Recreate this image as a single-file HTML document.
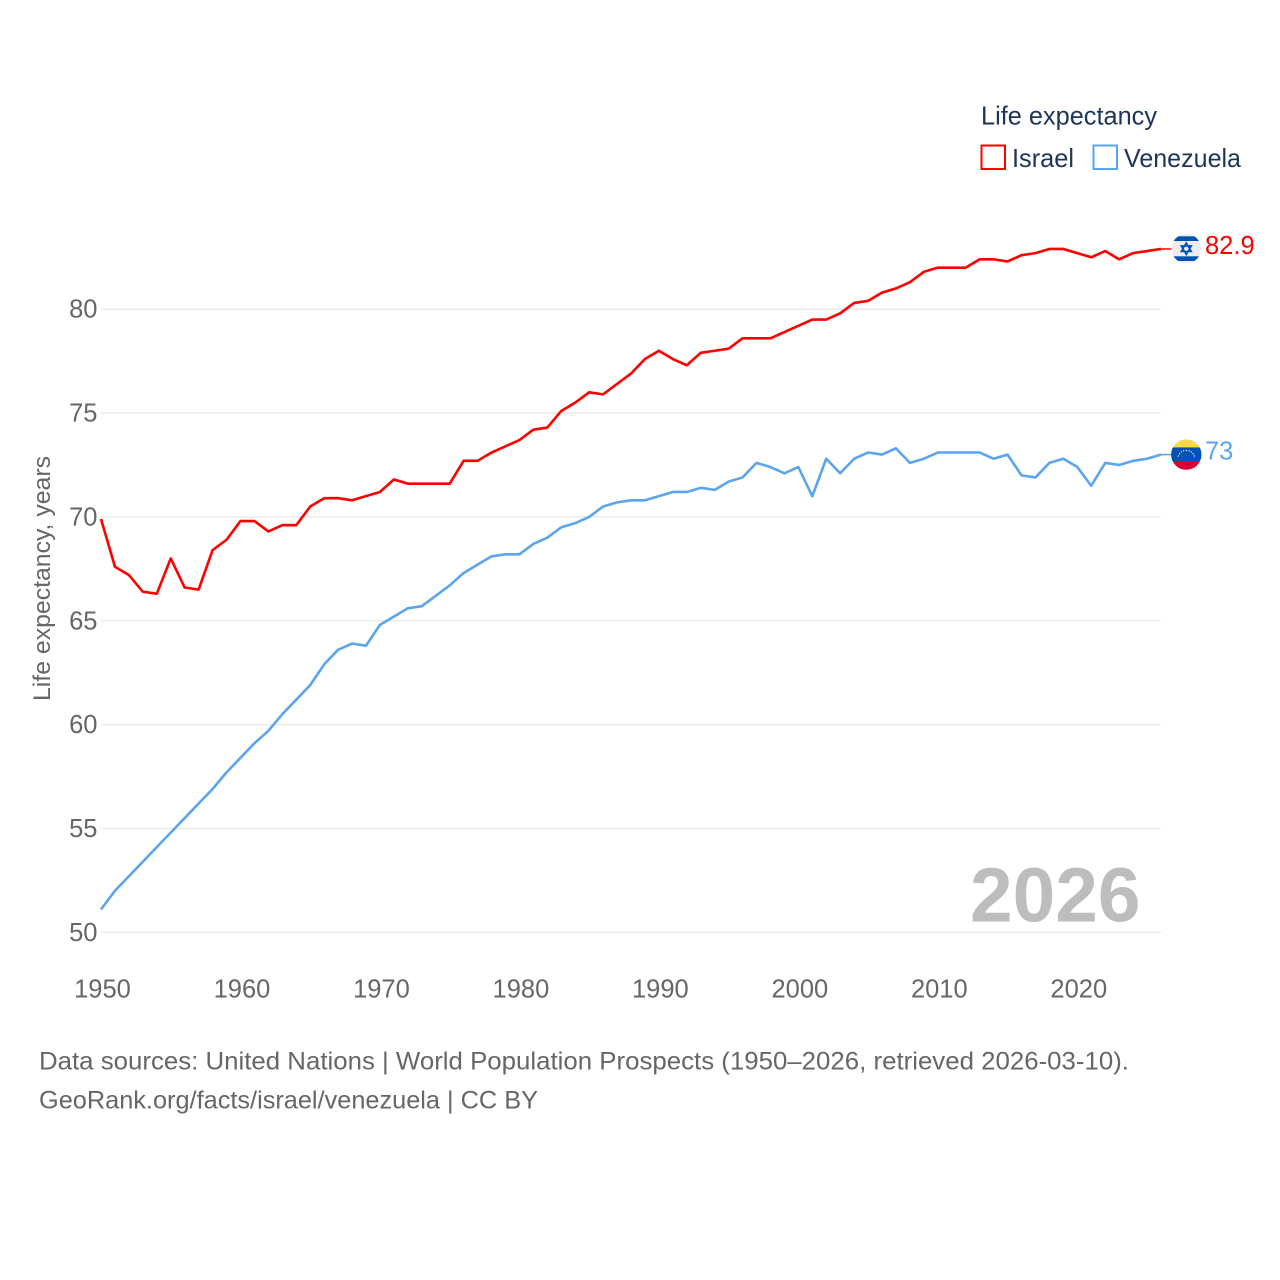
<!DOCTYPE html>
<html lang="en">
<head>
<meta charset="utf-8">
<title>Life expectancy: Israel and Venezuela</title>
<style>
html,body{margin:0;padding:0;background:#fff;}
svg{display:block;font-family:"Liberation Sans",sans-serif;}
</style>
</head>
<body>
<svg id="chart" width="1280" height="1280" viewBox="0 0 1280 1280" xmlns="http://www.w3.org/2000/svg">
  <rect width="1280" height="1280" fill="#fff"/>
  <g id="grid"></g>
  <g id="yticks"></g>
  <g id="xticks"></g>
  <text transform="translate(50,578.5) rotate(-90)" text-anchor="middle" font-size="24" fill="#666" textLength="245" lengthAdjust="spacingAndGlyphs">Life expectancy, years</text>
  <text x="970" y="921.5" font-size="77" font-weight="bold" fill="#bdbdbd" textLength="170.5" lengthAdjust="spacingAndGlyphs">2026</text>
  <g id="series"></g>
  <g id="ends"></g>

  <g>
    <clipPath id="clip-il"><circle cx="1186.3" cy="248.7" r="14.8"/></clipPath>
    <g clip-path="url(#clip-il)">
      <rect x="1171" y="233" width="31" height="32" fill="#eeeeee"/>
      <rect x="1171" y="236.3" width="31" height="4.7" fill="#0052b4"/>
      <rect x="1171" y="256.3" width="31" height="4.7" fill="#0052b4"/>
      <path d="M1186.3 242.9l5 8.6h-10z M1186.3 254.5l5-8.6h-10z" fill="none" stroke="#0052b4" stroke-width="1.6"/>
    </g>
  </g>
  <g>
    <clipPath id="clip-ve"><circle cx="1186.3" cy="454.6" r="15.2"/></clipPath>
    <g clip-path="url(#clip-ve)">
      <rect x="1171" y="439" width="31" height="8.4" fill="#ffda44"/>
      <rect x="1171" y="447.4" width="31" height="13.6" fill="#0052b4"/>
      <rect x="1171" y="461" width="31" height="10" fill="#d80032"/>
      <g fill="#e8eef8">
        <circle cx="1178.3" cy="456" r=".7"/><circle cx="1179.6" cy="453.8" r=".7"/><circle cx="1181.4" cy="451.9" r=".7"/><circle cx="1183.6" cy="450.8" r=".7"/><circle cx="1186.3" cy="450.4" r=".7"/><circle cx="1189" cy="450.8" r=".7"/><circle cx="1191.2" cy="451.9" r=".7"/><circle cx="1193" cy="453.8" r=".7"/><circle cx="1194.3" cy="456" r=".7"/>
      </g>
    </g>
  </g>

  <g>
    <text x="981" y="124.7" font-size="26" fill="#1d3557" textLength="176" lengthAdjust="spacingAndGlyphs">Life expectancy</text>
    <g>
      <rect x="981.5" y="145.5" width="23.5" height="23.5" fill="none" stroke="#ff0000" stroke-width="2"/>
      <text x="1012" y="167" font-size="26" fill="#1d3557" textLength="62" lengthAdjust="spacingAndGlyphs">Israel</text>
    </g>
    <g>
      <rect x="1093.5" y="145.5" width="23.5" height="23.5" fill="none" stroke="#5ba4ee" stroke-width="2"/>
      <text x="1124" y="167" font-size="26" fill="#1d3557" textLength="117" lengthAdjust="spacingAndGlyphs">Venezuela</text>
    </g>
  </g>

  <text x="39" y="1069.3" font-size="25" fill="#666" textLength="1090" lengthAdjust="spacingAndGlyphs">Data sources: United Nations | World Population Prospects (1950–2026, retrieved 2026-03-10).</text>
  <text x="39" y="1108.3" font-size="25" fill="#666" textLength="499" lengthAdjust="spacingAndGlyphs">GeoRank.org/facts/israel/venezuela | CC BY</text>
</svg>
<script>
const startYear = 1950;
const israelValues = [69.9,67.6,67.2,66.4,66.3,68.0,66.6,66.5,68.4,68.9,69.8,69.8,69.3,69.6,69.6,70.5,70.9,70.9,70.8,71.0,71.2,71.8,71.6,71.6,71.6,71.6,72.7,72.7,73.1,73.4,73.7,74.2,74.3,75.1,75.5,76.0,75.9,76.4,76.9,77.6,78.0,77.6,77.3,77.9,78.0,78.1,78.6,78.6,78.6,78.9,79.2,79.5,79.5,79.8,80.3,80.4,80.8,81.0,81.3,81.8,82.0,82.0,82.0,82.4,82.4,82.3,82.6,82.7,82.9,82.9,82.7,82.5,82.8,82.4,82.7,82.8,82.9];
const venezuelaValues = [51.1,52.0,52.7,53.4,54.1,54.8,55.5,56.2,56.9,57.7,58.4,59.1,59.7,60.5,61.2,61.9,62.9,63.6,63.9,63.8,64.8,65.2,65.6,65.7,66.2,66.7,67.3,67.7,68.1,68.2,68.2,68.7,69.0,69.5,69.7,70.0,70.5,70.7,70.8,70.8,71.0,71.2,71.2,71.4,71.3,71.7,71.9,72.6,72.4,72.1,72.4,71.0,72.8,72.1,72.8,73.1,73.0,73.3,72.6,72.8,73.1,73.1,73.1,73.1,72.8,73.0,72.0,71.9,72.6,72.8,72.4,71.5,72.6,72.5,72.7,72.8,73.0];
const yTickValues = [50,55,60,65,70,75,80];
const xTickValues = [1950,1960,1970,1980,1990,2000,2010,2020];
const israelEndLabel = "82.9";
const venezuelaEndLabel = "73";

const NS = "http://www.w3.org/2000/svg";
function xScale(year){ return 101 + (year - 1950) * 13.947; }
function yScale(v){ return 932.3 - (v - 50) * 20.77; }
function make(tag, parent, attrs){
  const el = document.createElementNS(NS, tag);
  for (const k in attrs) el.setAttribute(k, attrs[k]);
  parent.appendChild(el);
  return el;
}
const lastYear = startYear + israelValues.length - 1;
const grid = document.getElementById("grid");
const yticks = document.getElementById("yticks");
const xticks = document.getElementById("xticks");
const series = document.getElementById("series");
const ends = document.getElementById("ends");

yTickValues.forEach(function(v){
  const line = make("line", grid, {x1:xScale(1950), x2:xScale(lastYear), y1:yScale(v), y2:yScale(v), stroke:"#ebebeb", "stroke-width":1.5});
  
  
  const t = make("text", yticks, {x:97.5, y:yScale(v)+8.5, "text-anchor":"end", "font-size":25.5, fill:"#666"});
  
  
  t.textContent = v;
});
xTickValues.forEach(function(y){
  const t = make("text", xticks, {x:xScale(y)+1.5, y:997.3, "text-anchor":"middle", "font-size":25.5, fill:"#666"});
  
  
  t.textContent = y;
});
function drawSeries(values, color, name, endLabel, labelX){
  const pts = values.map(function(v,i){ return xScale(startYear+i).toFixed(2)+","+yScale(v).toFixed(2); }).join(" ");
  const line = make("polyline", series, {points:pts, fill:"none", stroke:color, "stroke-width":2.6, "stroke-linejoin":"round"});
  
  
  const last = values[values.length-1];
  const leader = make("line", series, {x1:xScale(lastYear), x2:xScale(lastYear)+11, y1:yScale(last), y2:yScale(last), stroke:color, "stroke-width":1.5});
  
  
  const t = make("text", ends, {x:labelX, y:yScale(last)+5, "font-size":25.5, fill:color});
  
  
  t.textContent = endLabel;
}
drawSeries(israelValues, "#ff0000", "israel", israelEndLabel, 1205);
drawSeries(venezuelaValues, "#5ba4ee", "venezuela", venezuelaEndLabel, 1205);
</script>
</body>
</html>
